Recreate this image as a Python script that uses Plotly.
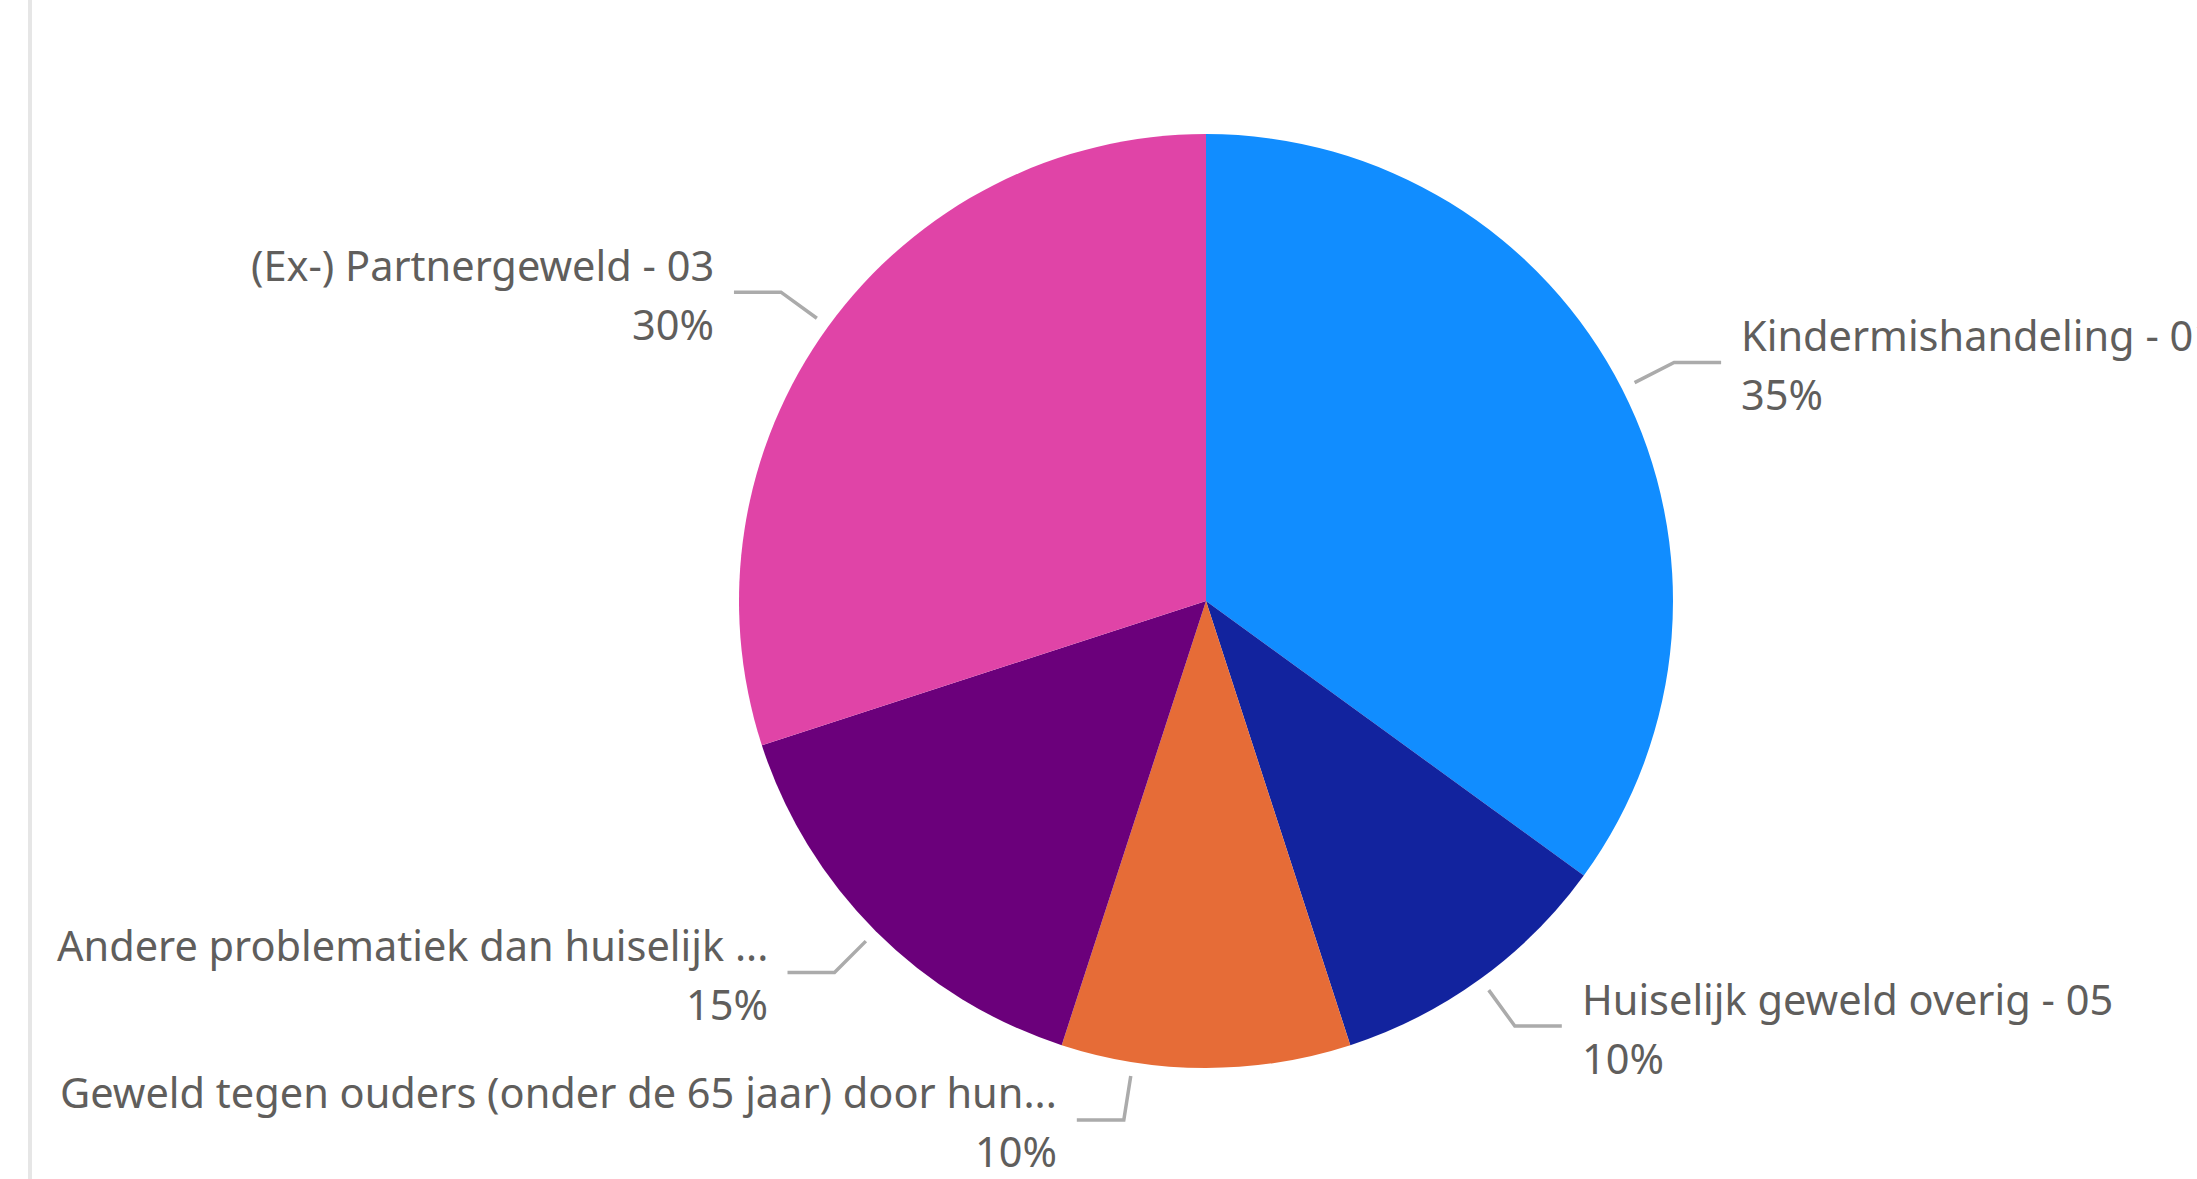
import math
import plotly.graph_objects as go

# ---- data ----
categories = [
    "Kindermishandeling - 01",
    "Huiselijk geweld overig - 05",
    "Geweld tegen ouders (onder de 65 jaar) door hun...",
    "Andere problematiek dan huiselijk ...",
    "(Ex-) Partnergeweld - 03",
]
values = [35, 10, 10, 15, 30]
colors = ["#118DFF", "#12239E", "#E66C37", "#6B007B", "#E044A7"]

# ---- layout / styling ----
W, H = 2197, 1179
CX, CY, R = 1206, 601, 467          # pie centre and radius in pixels
label_angle_nudge = [0, 0, 9, 0, 0]  # degrees, to avoid label overlap
TEXT_COLOR = "#605E5C"
LINE_COLOR = "#ABABAB"
FONT = "Segoe UI, Noto Sans, Open Sans, sans-serif"
FS = 41.5
LINE_GAP = 29.5                      # half distance between label lines (px)
TEXT_SHIFT = 2                       # small downward shift of label block (px)

fig = go.Figure()
fig.add_trace(go.Pie(
    labels=categories,
    values=values,
    marker=dict(colors=colors, line=dict(width=0)),
    sort=False,
    direction="clockwise",
    rotation=0,
    textinfo="none",
    hoverinfo="label+percent",
    showlegend=False,
    domain=dict(x=[(CX - R) / W, (CX + R) / W],
                y=[1 - (CY + R) / H, 1 - (CY - R) / H]),
))

def px2paper(x, y):
    return x / W, 1 - y / H

total = sum(values)
cum = 0
shapes = []
annotations = []
for i, (cat, v) in enumerate(zip(categories, values)):
    mid = (cum + v / 2) / total * 360 + label_angle_nudge[i]
    cum += v
    a = math.radians(mid)
    sx, sy = CX + R * 1.03 * math.sin(a), CY - R * 1.03 * math.cos(a)
    ex, ey = CX + R * 1.125 * math.sin(a), CY - R * 1.125 * math.cos(a)
    right = math.sin(a) > 0
    hx = ex + (47 if right else -47)
    tx = hx + (18 if right else -18)
    p = [px2paper(sx, sy), px2paper(ex, ey), px2paper(hx, ey)]
    shapes.append(dict(
        type="path", xref="paper", yref="paper",
        path="M {} {} L {} {} L {} {}".format(p[0][0], p[0][1], p[1][0], p[1][1], p[2][0], p[2][1]),
        line=dict(color=LINE_COLOR, width=3.5),
    ))
    pct = v / total * 100
    for txt, dy in ((cat, -LINE_GAP), (f"{pct:.0f}%", LINE_GAP)):
        ax, ay = px2paper(tx, ey + dy + TEXT_SHIFT)
        annotations.append(dict(
            x=ax, y=ay, xref="paper", yref="paper",
            text=txt,
            showarrow=False,
            xanchor="left" if right else "right",
            yanchor="middle",
            align="left" if right else "right",
            font=dict(family=FONT, size=FS, color=TEXT_COLOR),
        ))

# left frame line
shapes.append(dict(type="line", xref="paper", yref="paper",
                   x0=30 / W, x1=30 / W, y0=0, y1=1,
                   line=dict(color="#E6E6E6", width=4)))

fig.update_layout(
    width=W, height=H,
    margin=dict(l=0, r=0, t=0, b=0),
    paper_bgcolor="white",
    plot_bgcolor="white",
    shapes=shapes,
    annotations=annotations,
    font=dict(family=FONT, color=TEXT_COLOR),
)

fig.write_html("out.html", config={"displayModeBar": False},
               post_script="document.body.style.margin='0';document.body.style.overflow='hidden';")
